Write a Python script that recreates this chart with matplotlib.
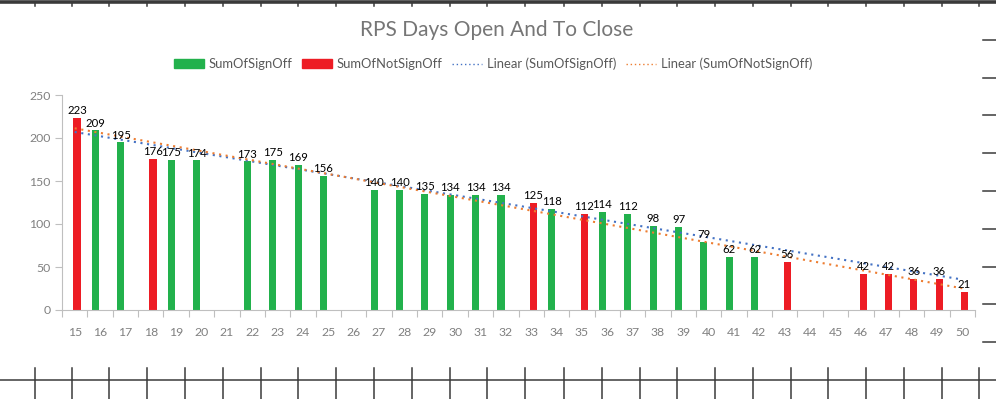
import numpy as np
import matplotlib
matplotlib.use("Agg")
import matplotlib.pyplot as plt
from matplotlib.lines import Line2D
from matplotlib.patches import Patch

# chart data (blank cells are None)
categories = list(range(15, 51))
sign_off = [None, 209, 195, None, 175, 174, None, 173, 175, 169, 156, None,
            140, 140, 135, 134, 134, 134, None, 118, None, 114, 112, 98, 97,
            79, 62, 62, None, None, None, None, None, None, None, None]
not_sign_off = [223, None, None, 176, None, None, None, None, None, None, None, None,
                None, None, None, None, None, None, 125, None, 112, None, None, None, None,
                None, None, None, 56, None, None, 42, 42, 36, 36, 21]
title = "RPS Days Open And To Close"
yticks = [0, 50, 100, 150, 200, 250]

# spreadsheet grid positions around the chart (pixels)
col_x = [35, 72, 109, 147, 185, 223, 261, 298, 336, 374, 412, 450, 487,
         525, 564, 602, 640, 677, 715, 753, 791, 828, 866, 904, 942, 979]
row_y = [40, 78, 115, 153, 191, 229, 267, 304, 342]

W, H = 996, 399
GREEN = "#22B14C"
RED = "#ED1C24"
BLUE = "#4472C4"
ORANGE = "#ED7D31"
GRAY = "#808080"
FONT = ["Lato", "DejaVu Sans"]
plt.rcParams["font.family"] = FONT

fig = plt.figure(figsize=(W / 100, H / 100), dpi=100)
ax = fig.add_axes([62 / W, (H - 310) / H, (975 - 62) / W, 215 / H])

x = np.array(categories, dtype=float)
bw = 0.28
for vals, off, col in [(sign_off, -0.19, GREEN), (not_sign_off, 0.09, RED)]:
    xs = [c + off for c, v in zip(categories, vals) if v is not None]
    ys = [v for v in vals if v is not None]
    ax.bar(xs, ys, width=bw, color=col, zorder=2)
    for xx, yy in zip(xs, ys):
        ax.text(xx, yy + 2, str(yy), ha="center", va="bottom", fontsize=8.2,
                color="black", zorder=4)

# linear trendlines over present points
for vals, col in [(sign_off, BLUE), (not_sign_off, ORANGE)]:
    px = np.array([c for c, v in zip(categories, vals) if v is not None], float)
    py = np.array([v for v in vals if v is not None], float)
    k, b = np.polyfit(px, py, 1)
    ax.plot([x[0], x[-1]], [k * x[0] + b, k * x[-1] + b], color=col,
            linestyle=(0, (1, 2.2)), linewidth=1.5, zorder=3)

ax.set_xlim(14.5, 50.5)
ax.set_ylim(0, 250)
ax.set_xticks(np.arange(14.5, 51, 1))
ax.set_xticklabels([])
ax.set_xticks(x, minor=True)
ax.set_xticklabels([str(c) for c in categories], minor=True)
ax.tick_params(axis="x", which="major", length=5, color="#BFBFBF", direction="out")
ax.tick_params(axis="x", which="minor", length=0, pad=12, labelsize=8.8, labelcolor=GRAY)
ax.set_yticks(yticks)
ax.tick_params(axis="y", length=5, color="#BFBFBF", labelsize=8.8, labelcolor=GRAY, pad=3)
for s in ["top", "right"]:
    ax.spines[s].set_visible(False)
for s in ["left", "bottom"]:
    ax.spines[s].set_color("#BFBFBF")

fig.text(497 / W, 1 - 30 / H, title, ha="center", va="center", fontsize=15, color="#767676")

handles = [Patch(color=GREEN), Patch(color=RED),
           Line2D([], [], color=BLUE, linestyle=(0, (1, 2)), linewidth=1),
           Line2D([], [], color=ORANGE, linestyle=(0, (1, 2)), linewidth=1)]
labels = ["SumOfSignOff", "SumOfNotSignOff", "Linear (SumOfSignOff)", "Linear (SumOfNotSignOff)"]
leg = fig.legend(handles, labels, loc="center", bbox_to_anchor=(493 / W, 1 - 64 / H), ncol=4,
                 frameon=False, fontsize=9.4, handlelength=2.3, handleheight=0.7,
                 handletextpad=0.35, columnspacing=0.75, labelcolor="#595959")

# spreadsheet cell lines around the chart
def fx(p):
    return p / W

def fy(p):
    return 1 - p / H

dark = "#3A3A3A"
fig.add_artist(Line2D([0, 1], [fy(1.5), fy(1.5)], color=dark, linewidth=2.6))
fig.add_artist(Line2D([0, 1], [fy(380), fy(380)], color=dark, linewidth=1.1))
for cx in col_x:
    fig.add_artist(Line2D([fx(cx), fx(cx)], [fy(2), fy(6)], color=dark, linewidth=1.1))
    fig.add_artist(Line2D([fx(cx), fx(cx)], [fy(368), fy(399)], color=dark, linewidth=1.1))
for ry in row_y:
    fig.add_artist(Line2D([fx(983), fx(996)], [fy(ry), fy(ry)], color=dark, linewidth=1.1))

fig.savefig("out.png", dpi=100)
